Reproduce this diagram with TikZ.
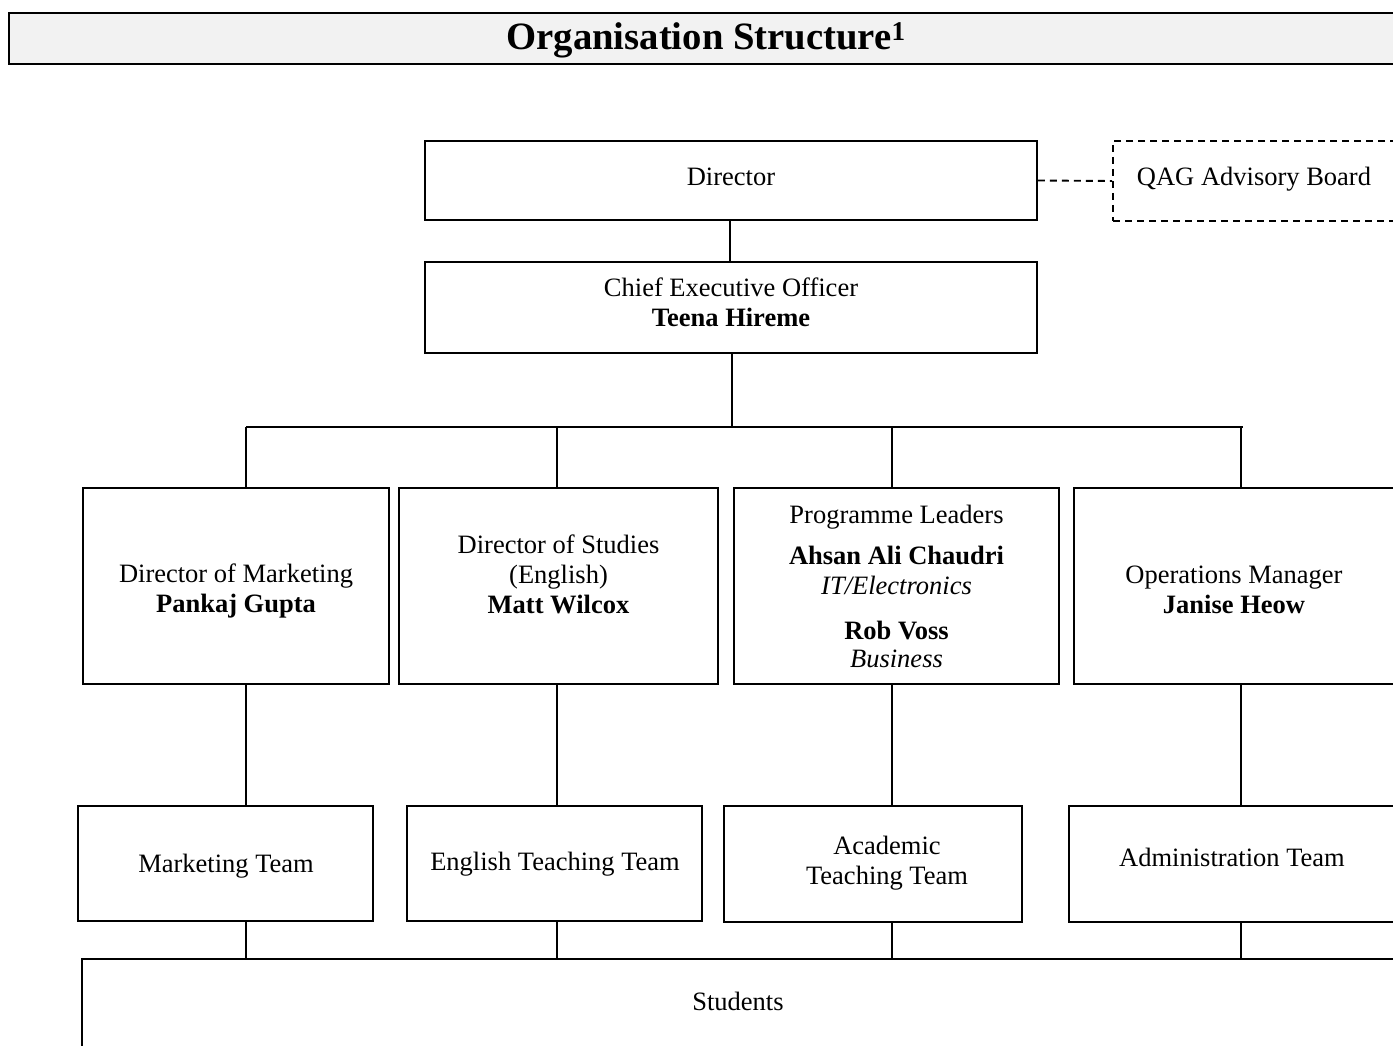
\documentclass[tikz,border=0pt]{standalone}
\usepackage{fontspec}
\setmainfont{Liberation Serif}
\begin{document}
\begin{tikzpicture}[x=1pt,y=-1pt,
  box/.style={draw=black,line width=1.9pt,rectangle,inner sep=0pt},
  ln/.style={draw=black,line width=1.9pt},
  lbl/.style={inner sep=0pt,align=center,font=\fontsize{26.5}{30}\selectfont}]
\useasboundingbox (0,0) rectangle (1393,1046);
\clip (0,0) rectangle (1393,1046);
\fill[white] (0,0) rectangle (1393,1046);
% title
\node[draw=black,line width=2.8pt,fill=black!5,minimum width=1428pt,minimum height=51pt,inner sep=0pt] (title) at (723,38.5) {};
\node[inner sep=0pt,font=\fontsize{38.7}{42}\selectfont\bfseries] (titlel) at (706,40) {Organisation Structure\textsuperscript{1}};
% top
\node[box,minimum width=612pt,minimum height=79pt] (dir) at (731,180.5) {};
\node[lbl] (dirl) at (731,177) {Director};
\node[box,dashed,dash pattern=on 7pt off 5pt,minimum width=282pt,minimum height=80pt] (qag) at (1254,181) {};
\node[lbl] (qagl) at (1254,179) {QAG Advisory Board};
\node[box,minimum width=612pt,minimum height=91pt] (ceo) at (731,307.5) {};
\node[lbl] (ceol) at (731,302) {Chief Executive Officer\\\textbf{Teena Hireme}};
% second row
\node[box,minimum width=306pt,minimum height=196pt] (mkt) at (236,586) {};
\node[lbl] (mktl) at (236,591) {Director of Marketing\\\textbf{Pankaj Gupta}};
\node[box,minimum width=319pt,minimum height=196pt] (dos) at (558.5,586) {};
\node[lbl] (dosl) at (558.5,574) {Director of Studies\\(English)\\\textbf{Matt Wilcox}};
\node[box,minimum width=325pt,minimum height=196pt] (pl) at (896.5,586) {};
\node[lbl] (pll) at (896.5,586.5) {Programme Leaders\\[11pt]\textbf{Ahsan Ali Chaudri}\\\textit{IT/Electronics}\\[15pt]\textbf{Rob Voss}\\[-2pt]\textit{Business}};
\node[box,minimum width=320pt,minimum height=196pt] (ops) at (1234,586) {};
\node[lbl] (opsl) at (1234,590) {Operations Manager\\\textbf{Janise Heow}};
% teams
\node[box,minimum width=295pt,minimum height=115pt] (mt) at (225.5,863.5) {};
\node[lbl] (mtl) at (226,866) {Marketing Team};
\node[box,minimum width=295pt,minimum height=115pt] (et) at (554.5,863.5) {};
\node[lbl] (etl) at (555,864) {English Teaching Team};
\node[box,minimum width=298pt,minimum height=116pt] (at) at (873,864) {};
\node[lbl] (atl) at (887,863) {Academic\\Teaching Team};
\node[box,minimum width=326pt,minimum height=116pt] (adm) at (1232,864) {};
\node[lbl] (adml) at (1232,857) {Administration Team};
% students
\node[box,minimum width=1313pt,minimum height=140pt] (stu) at (738.5,1029) {};
\node[lbl] (stul) at (738,1001) {Students};
% connectors
\coordinate (bus) at (732,427);
\draw[ln] (dir.south -| 730,0) -- (ceo.north -| 730,0);
\draw[ln,dashed,dash pattern=on 7pt off 5pt] (dir.east) -- (qag.west);
\draw[ln] (ceo.south -| bus) -- (bus);
\draw[ln] (246,427) -- (1243,427);
\foreach \x/\a/\b in {246/mkt/mt,557/dos/et,892/pl/at,1241/ops/adm}{
  \draw[ln] (\x,427) -- (\a.north -| \x,0);
  \draw[ln] (\a.south -| \x,0) -- (\b.north -| \x,0);
  \draw[ln] (\b.south -| \x,0) -- (stu.north -| \x,0);
}
\end{tikzpicture}
\end{document}
